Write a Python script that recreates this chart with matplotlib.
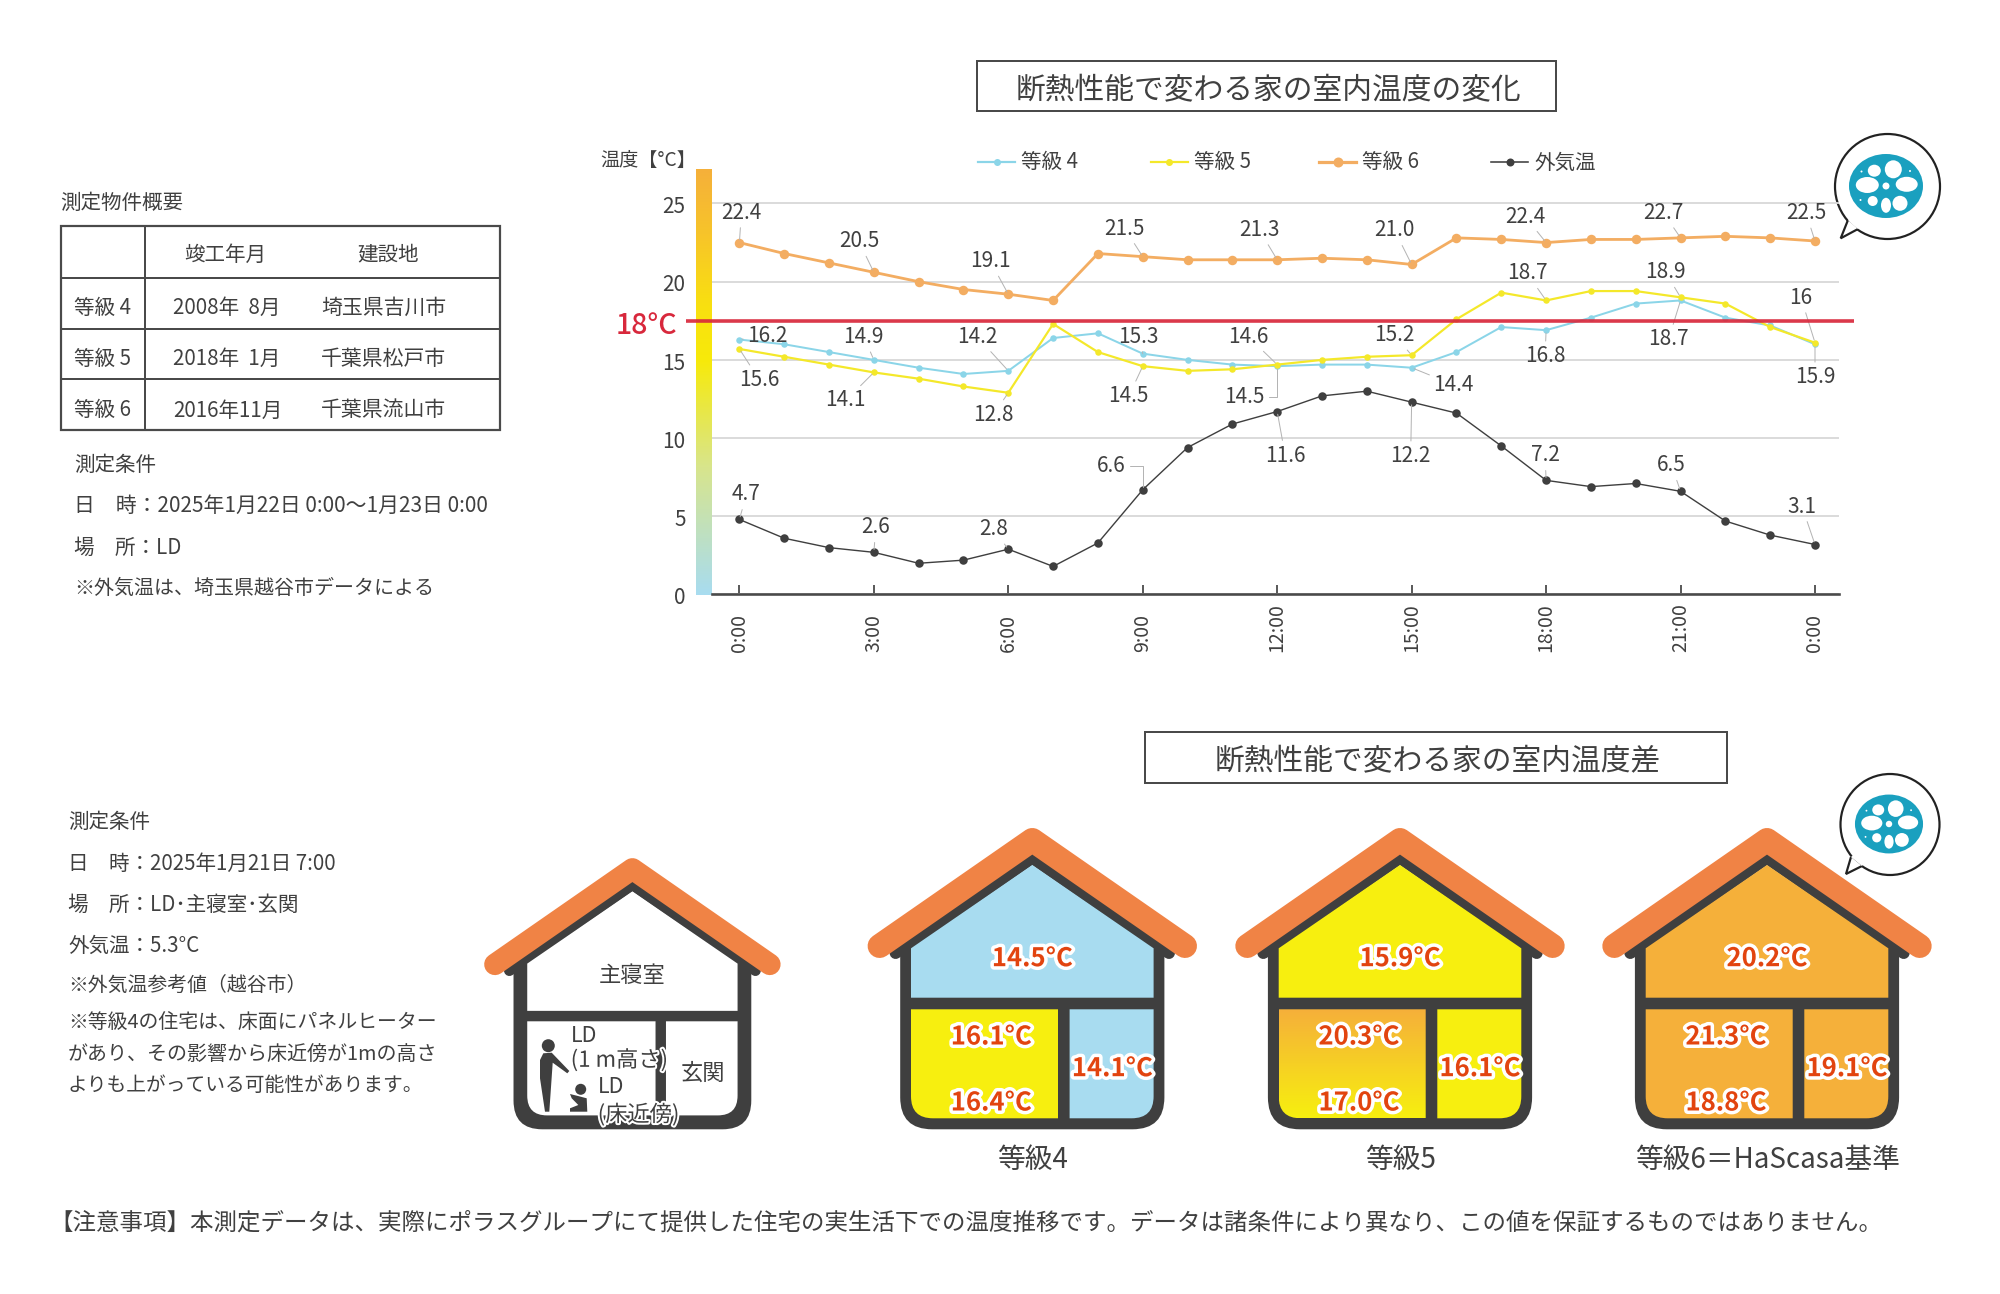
import numpy as np
import matplotlib
matplotlib.use('Agg')
import matplotlib.pyplot as plt
import matplotlib.patheffects as pe
import matplotlib.transforms as mtrans
from matplotlib.colors import LinearSegmentedColormap
from matplotlib.lines import Line2D
from matplotlib.patches import Ellipse, PathPatch, Polygon, Rectangle
from matplotlib.path import Path

plt.rcParams['font.family'] = ['Noto Sans CJK JP', 'DejaVu Sans']

# chart data
hours = list(range(25))
tick_hours = [0, 3, 6, 9, 12, 15, 18, 21, 24]
tick_names = ['0:00', '3:00', '6:00', '9:00', '12:00', '15:00', '18:00', '21:00', '0:00']
y_ticks = [0, 5, 10, 15, 20, 25]
limit_line = 17.5

grade4 = [16.2, 15.9, 15.4, 14.9, 14.4, 14.0, 14.2, 16.3, 16.6, 15.3, 14.9, 14.6, 14.5,
          14.6, 14.6, 14.4, 15.4, 17.0, 16.8, 17.6, 18.5, 18.7, 17.6, 17.1, 15.9]
grade5 = [15.6, 15.1, 14.6, 14.1, 13.7, 13.2, 12.8, 17.2, 15.4, 14.5, 14.2, 14.3, 14.6,
          14.9, 15.1, 15.2, 17.5, 19.2, 18.7, 19.3, 19.3, 18.9, 18.5, 17.0, 16.0]
grade6 = [22.4, 21.7, 21.1, 20.5, 19.9, 19.4, 19.1, 18.7, 21.7, 21.5, 21.3, 21.3, 21.3,
          21.4, 21.3, 21.0, 22.7, 22.6, 22.4, 22.6, 22.6, 22.7, 22.8, 22.7, 22.5]
outside = [4.7, 3.5, 2.9, 2.6, 1.9, 2.1, 2.8, 1.7, 3.2, 6.6, 9.3, 10.8, 11.6,
           12.6, 12.9, 12.2, 11.5, 9.4, 7.2, 6.8, 7.0, 6.5, 4.6, 3.7, 3.1]

grade4_labels = {0: '16.2', 3: '14.9', 6: '14.2', 9: '15.3', 12: '14.5', 15: '14.4', 18: '16.8', 21: '18.7', 24: '15.9'}
grade5_labels = {0: '15.6', 3: '14.1', 6: '12.8', 9: '14.5', 12: '14.6', 15: '15.2', 18: '18.7', 21: '18.9', 24: '16'}
grade6_labels = {0: '22.4', 3: '20.5', 6: '19.1', 9: '21.5', 12: '21.3', 15: '21.0', 18: '22.4', 21: '22.7', 24: '22.5'}
outside_labels = {0: '4.7', 3: '2.6', 6: '2.8', 9: '6.6', 12: '11.6', 15: '12.2', 18: '7.2', 21: '6.5', 24: '3.1'}

# label offsets in pixels from the point
grade4_spots = {0: (28, 4), 3: (-10, 23), 6: (-31, 34), 9: (-4, 17), 12: (-33, -31), 15: (42, -17), 18: (-1, -26), 21: (-12, -39), 24: (0, -33)}
grade5_spots = {0: (20, -31), 3: (-28, -28), 6: (-15, -22), 9: (-14, -30), 12: (-29, 28), 15: (-17, 20), 18: (-19, 27), 21: (-15, 25), 24: (-14, 45)}
grade6_spots = {0: (2, 30), 3: (-15, 31), 6: (-18, 33), 9: (-18, 28), 12: (-18, 30), 15: (-17, 34), 18: (-21, 26), 21: (-17, 25), 24: (-9, 28)}
outside_spots = {0: (7, 25), 3: (2, 25), 6: (-15, 20), 9: (-31, 24), 12: (8, -44), 15: (-1, -54), 18: (-1, 25), 21: (-9, 26), 24: (-13, 38)}

# table data
table_grades = ['等級 4', '等級 5', '等級 6']
table_dates = ['2008年  8月', '2018年  1月', '2016年11月']
table_places = ['埼玉県吉川市', '千葉県松戸市', '千葉県流山市']

# house data
house_names = ['等級4', '等級5', '等級6＝HaScasa基準']
upper_temps = ['14.5°C', '15.9°C', '20.2°C']
ld_1m_temps = ['16.1°C', '20.3°C', '21.3°C']
ld_floor_temps = ['16.4°C', '17.0°C', '18.8°C']
hall_temps = ['14.1°C', '16.1°C', '19.1°C']

DARK = '#3f3f3f'
TEXT = '#404040'
ROOF = '#f08345'
BLUE = '#a8dcf0'
YELLOW = '#f7ef0f'
ORANGE = '#f5b03a'
RED = '#d8283c'
TEAL = '#1aa0bf'

W, H = 2000, 1294
fig = plt.figure(figsize=(W / 100, H / 100), dpi=100, facecolor='white')
bg = fig.add_axes([0, 0, 1, 1])
bg.set_xlim(0, W)
bg.set_ylim(H, 0)
bg.axis('off')


def px(v):
    return v * 0.72


def put(x, y, s, size=14.8, ha='left', color=TEXT, **kw):
    # noto sits a little high when centred
    return bg.text(x, y + 2.5, s, fontsize=size, ha=ha, va='center', color=color, **kw)


# ---- side texts and table
put(60, 200, '測定物件概要')
bg.add_patch(Rectangle((60.7, 226), 439.3, 204, fill=False, ec='#4a4a4a', lw=px(2.2)))
bg.plot([144.7, 144.7], [226, 430], color='#4a4a4a', lw=px(2))
for yy in [278.3, 328.7, 379]:
    bg.plot([60.7, 500], [yy, yy], color='#4a4a4a', lw=px(2))
put(225.7, 252, '竣工年月', ha='center')
put(387.7, 252, '建設地', ha='center')
for row_y, g, d, p in zip([305.7, 356.7, 408], table_grades, table_dates, table_places):
    put(74, row_y, g)
    put(173, row_y, d)
    put(321, row_y, p, size=15)

put(74, 462, '測定条件')
put(74, 503, '日　時：2025年1月22日 0:00～1月23日 0:00', size=15)
put(74, 545, '場　所：LD')
put(74, 586, '※外気温は、埼玉県越谷市データによる', size=14.4)

lower_lines = [('測定条件', 14.8), ('日　時：2025年1月21日 7:00', 14.8), ('場　所：LD･主寝室･玄関', 14.8),
               ('外気温：5.3°C', 14.8), ('※外気温参考値（越谷市）', 14.3), ('※等級4の住宅は、床面にパネルヒーター', 14.3),
               ('があり、その影響から床近傍が1mの高さ', 14.4), ('よりも上がっている可能性があります。', 14.2)]
for yy, (line, size) in zip([819, 861, 902, 943, 983, 1020, 1052, 1083], lower_lines):
    put(68, yy, line, size=size)

put(49, 1221, '【注意事項】本測定データは、実際にポラスグループにて提供した住宅の実生活下での温度推移です。'
    'データは諸条件により異なり、この値を保証するものではありません。', size=16.9)

# ---- title boxes
for box, title in [((977, 61, 579, 50), '断熱性能で変わる家の室内温度の変化'),
                   ((1145, 732, 582, 51), '断熱性能で変わる家の室内温度差')]:
    bg.add_patch(Rectangle(box[:2], box[2], box[3], fc='white', ec='#4a4a4a', lw=px(2)))
    put(box[0] + box[2] / 2 + 2, box[1] + box[3] / 2 + 2, title, size=21.4, ha='center')

# ---- gradient bar beside the y axis
bar_cmap = LinearSegmentedColormap.from_list('bar', [(0, '#a8dcf0'), (0.3, '#d8e58c'), (0.55, '#f7ea0a'),
                                                     (0.68, '#f9e010'), (0.85, '#f7c42a'), (1, ORANGE)])
bg.imshow(np.linspace(1, 0, 256)[:, None], cmap=bar_cmap, extent=(696, 712, 595.5, 170), aspect='auto', zorder=1)
bg.set_xlim(0, W)
bg.set_ylim(H, 0)

# ---- chart
left, right, top, bottom = 712, 1838.6, 170, 594.5
ax = fig.add_axes([left / W, 1 - bottom / H, (right - left) / W, (bottom - top) / H])
ax.patch.set_alpha(0)
per_hour = (1815 - 739.4) / 24
x_low = (left - 739.4) / per_hour
x_high = (right - 739.4) / per_hour
per_unit = (594.5 - 203.4) / 25
ax.set_xlim(x_low, x_high)
ax.set_ylim(0, (bottom - top) / per_unit)
for name in ['top', 'left', 'right']:
    ax.spines[name].set_visible(False)
ax.spines['bottom'].set_color('#4a4a4a')
ax.spines['bottom'].set_linewidth(px(2.6))
ax.set_axisbelow(True)
ax.yaxis.grid(True, color='#d8d8d8', lw=px(1.8))
ax.set_yticks(y_ticks)
ax.set_yticklabels([str(t) for t in y_ticks], fontsize=15, color=TEXT)
ax.tick_params(axis='y', length=0, pad=19)
nudge = mtrans.ScaledTranslation(0, -1.2 / 100, fig.dpi_scale_trans)
for lab in ax.get_yticklabels():
    lab.set_transform(lab.get_transform() + nudge)
ax.set_xticks(tick_hours)
ax.tick_params(axis='x', direction='in', length=px(9), width=px(1.8), color='#4a4a4a', labelbottom=False)
for h, name in zip(tick_hours, tick_names):
    ax.text(h, -(652 - bottom) / per_unit, name, rotation=90, ha='center', va='bottom',
            fontsize=14, color=TEXT, clip_on=False)

lift = mtrans.offset_copy(ax.transData, fig=fig, y=1.5, units='dots')
series = [
    (grade6, grade6_labels, grade6_spots, '#f3ad62', px(2.8), px(9.5)),
    (grade4, grade4_labels, grade4_spots, '#8bd5e8', px(2), px(6.5)),
    (grade5, grade5_labels, grade5_spots, '#f4e82a', px(2.2), px(6.5)),
    (outside, outside_labels, outside_spots, '#3f3f3f', px(1.4), px(8.5)),
]
for vals, labels, spots, color, lw, ms in series:
    ax.plot(hours, vals, color=color, lw=lw, marker='o', ms=ms, mec='none', transform=lift, zorder=3, clip_on=False)
    for h, s in labels.items():
        conn = 'arc3'
        if (vals is grade4 and h == 12) or (vals is outside and h == 9):
            conn = 'angle,angleA=0,angleB=90,rad=0'
        ax.annotate(s, xy=(h, vals[h]), xycoords=lift, xytext=spots[h], textcoords='offset pixels',
                    ha='center', va='center', fontsize=15, color=TEXT, zorder=4,
                    arrowprops=dict(arrowstyle='-', color='#b4b4b4', lw=px(1), shrinkA=1, shrinkB=2, connectionstyle=conn))

ax.hlines(limit_line, (686 - 739.4) / per_hour, (1854 - 739.4) / per_hour, color=RED, lw=px(3.6),
          alpha=0.92, zorder=5, clip_on=False)
put(646, 323, '18°C', size=20.5, ha='center', color=RED, weight='medium')
put(648, 158, '温度【°C】', size=13.8, ha='center')

# legend row
for x0, name, color, lw, ms in [(978, '等級 4', '#8bd5e8', 2.2, 7), (1150.5, '等級 5', '#f4e82a', 2.2, 7),
                                (1319, '等級 6', '#f3ad62', 3.2, 10), (1491, '外気温', '#3f3f3f', 1.6, 8)]:
    bg.add_line(Line2D([x0, x0 + 37], [162, 162], color=color, lw=px(lw)))
    bg.add_line(Line2D([x0 + 18.5], [162], color=color, marker='o', ms=px(ms), mec='none'))
    put(x0 + 43, 160, name, size=14.8)


# ---- lotus bubbles
def lotus_bubble(cx, cy, w, h, tail, lotus_xy, s):
    tip, a, b = tail
    bg.add_patch(Ellipse((cx, cy), w, h, fc='white', ec='#222222', lw=px(2.2), zorder=6))
    bg.add_patch(Polygon([a, tip, b], closed=False, fc='white', ec='#222222', lw=px(2.2), zorder=6))
    bg.add_patch(Polygon([a, b, (cx, cy)], fc='white', ec='none', zorder=6))
    lx, ly = lotus_xy
    bg.add_patch(Ellipse((lx, ly), 74 * s, 64 * s, fc=TEAL, ec='none', zorder=7))
    holes = [(-18.7, -1, 23, 16), (-11.7, -15.3, 13, 12), (7.3, -16.7, 17, 18), (20.7, -1.7, 22, 15),
             (14, 17.3, 15, 15), (0, 19.3, 10, 15), (-13.3, 15, 10, 10), (0, 0, 7, 7),
             (-24.5, -14.5, 2, 2), (24, -15, 2, 2), (-25.5, 14, 2, 2)]
    for dx, dy, hw, hh in holes:
        bg.add_patch(Ellipse((lx + dx * s, ly + dy * s), hw * s, hh * s, fc='white', ec='none', zorder=8))


lotus_bubble(1887.5, 186.5, 105, 105, ((1840.7, 238.3), (1848, 220), (1858, 229)), (1886, 186), 1)
lotus_bubble(1890, 824.5, 99, 101, ((1846, 874), (1851, 857), (1862, 866)), (1889, 824), 0.92)


# ---- houses
def room_path(x0, x1, y0, y1, r_left=0, r_right=0):
    verts = [(x0, y0), (x1, y0), (x1, y1 - r_right), (x1, y1), (x1 - r_right, y1),
             (x0 + r_left, y1), (x0, y1), (x0, y1 - r_left), (x0, y0)]
    codes = [Path.MOVETO, Path.LINETO, Path.LINETO, Path.CURVE3, Path.CURVE3,
             Path.LINETO, Path.CURVE3, Path.CURVE3, Path.CLOSEPOLY]
    return Path(verts, codes)


def draw_house(cx, base, s, upper, low_left, low_right, extra=0):
    def X(v):
        return cx + v * s

    def Y(v):
        return base + v * s

    inner = 121.3 * s - extra
    floor = base - 11 * s - extra
    eave = Y(-181) - extra * 0.7
    # dark body
    bg.add_patch(PathPatch(room_path(X(-132.1), X(132.1), Y(-185), base, 32 * s, 32 * s), fc=DARK, ec='none', zorder=2))
    bg.add_line(Line2D([X(-136.7), cx, X(136.7)], [Y(-176.3), Y(-271.3), Y(-176.3)], color=DARK,
                       lw=px(12 * s), solid_capstyle='round', solid_joinstyle='miter', zorder=2))
    bg.add_patch(Polygon([(X(-100), Y(-190)), (cx, Y(-262)), (X(100), Y(-190))], fc=DARK, ec='none', zorder=2))
    # rooms
    bg.add_patch(Polygon([(cx, Y(-264.3)), (cx + inner, eave), (cx + inner, Y(-131.6)), (cx - inner, Y(-131.6)), (cx - inner, eave)],
                         fc=upper, ec='none', zorder=3))
    ll = PathPatch(room_path(cx - inner, X(25.7), Y(-120), floor, 22 * s, 0), ec='none', zorder=3,
                   fc=low_left if low_left != 'gradient' else 'none')
    bg.add_patch(ll)
    if low_left == 'gradient':
        fade = LinearSegmentedColormap.from_list('fade', [YELLOW, ORANGE])
        im = bg.imshow(np.linspace(1, 0, 64)[:, None], cmap=fade, zorder=3, aspect='auto',
                       extent=(cx - inner, X(25.7), floor, Y(-120)))
        im.set_clip_path(ll)
        bg.set_xlim(0, W)
        bg.set_ylim(H, 0)
    bg.add_patch(PathPatch(room_path(X(37.3), cx + inner, Y(-120), floor, 0, 22 * s), fc=low_right, ec='none', zorder=3))
    # roof
    bg.add_line(Line2D([X(-152.7), cx, X(152.7)], [Y(-183.3), Y(-289.3), Y(-183.3)], color=ROOF,
                       lw=px(24 * s), solid_capstyle='round', solid_joinstyle='round', zorder=4))


def temp(x, y, s):
    bg.text(x, y + 2, s, fontsize=18.5, weight='bold', color='#e2440f', ha='center', va='center', zorder=5,
            path_effects=[pe.withStroke(linewidth=px(7), foreground='white')])


draw_house(632.4, 1129.3, 0.9, 'white', 'white', 'white', extra=4)
house_fills = [(BLUE, YELLOW, BLUE), (YELLOW, 'gradient', YELLOW), (ORANGE, ORANGE, ORANGE)]
for i, cx in enumerate([1032.3, 1400, 1767]):
    draw_house(cx, 1129.3, 1, *house_fills[i])
    temp(cx, 956.7, upper_temps[i])
    temp(cx - 41, 1035, ld_1m_temps[i])
    temp(cx - 41, 1101, ld_floor_temps[i])
    temp(cx + 80, 1066.7, hall_temps[i])
    put(cx, 1157, house_names[i], size=20, ha='center', zorder=5)

# room names in the plain house
put(632.4, 973, '主寝室', size=16, ha='center', zorder=5)
put(702.7, 1071, '玄関', size=16, ha='center', zorder=5)
halo = [pe.withStroke(linewidth=px(4), foreground='white')]
put(570.7, 1033.5, 'LD', size=15.5, zorder=5)
put(570.7, 1057.5, '(1 m高さ)', size=16, zorder=5, path_effects=halo)
put(597.7, 1084.5, 'LD', size=15.5, zorder=5)
put(597.7, 1112, '(床近傍)', size=16, zorder=5, path_effects=halo)

# adult and child figures
bg.add_patch(Ellipse((548.3, 1045.7), 13, 13, fc=DARK, ec='none', zorder=5))
bg.add_patch(Polygon([(543.3, 1053.3), (551.7, 1052.7), (569.3, 1071), (567.3, 1073.3), (552.7, 1062.7),
                      (549.3, 1111.7), (545, 1111.7), (540, 1078.3), (540, 1060)], fc=DARK, ec='none', zorder=5))
bg.add_patch(Ellipse((580.7, 1089.3), 11, 11, fc=DARK, ec='none', zorder=5))
bg.add_patch(Polygon([(570, 1094), (578, 1096), (586.7, 1098.3), (587.3, 1111.7), (570, 1111.7), (570, 1108.3),
                      (578.3, 1105), (571.7, 1098.3)], fc=DARK, ec='none', zorder=5))

fig.savefig('out.png', dpi=100)
